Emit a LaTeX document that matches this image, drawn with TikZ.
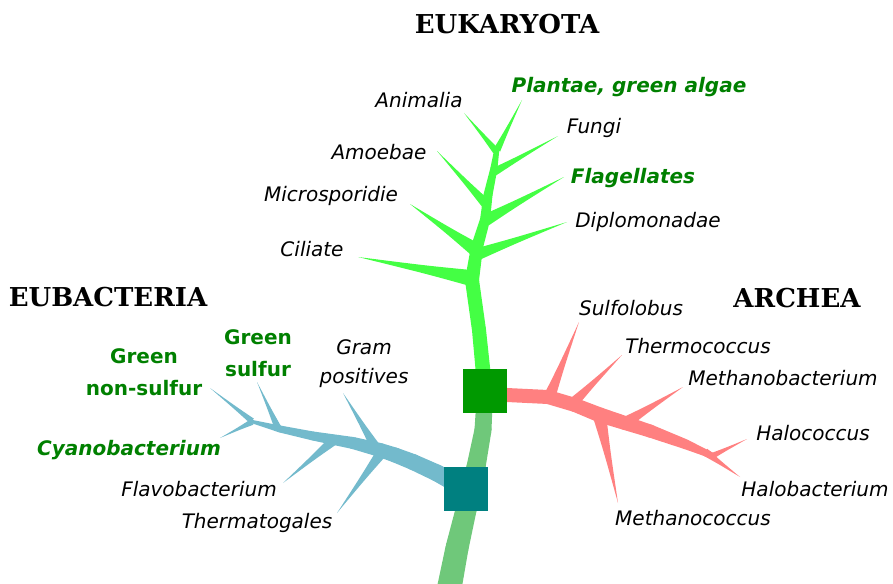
\documentclass[tikz,border=0pt]{standalone}
\usepackage{fontspec}
\setmainfont{DejaVu Sans}
\newfontfamily\headfont{DejaVu Serif}
\usetikzlibrary{calc}

\definecolor{eukgreen}{HTML}{44FF44}
\definecolor{trunkgreen}{HTML}{6FC87A}
\definecolor{rootgreen}{HTML}{009900}
\definecolor{rootteal}{HTML}{008080}
\definecolor{bacblue}{HTML}{73BACC}
\definecolor{archred}{HTML}{FF8080}
\definecolor{labelgreen}{HTML}{008000}

% tapered piece of a stem, from #2 (half width #4) to #3 (half width #5)
\newcommand{\limb}[5]{%
    \fill[#1] ($(#2)!#4!90:(#3)$) -- ($(#3)!#5!-90:(#2)$) -- ($(#3)!#5!90:(#2)$) -- ($(#2)!#4!-90:(#3)$) -- cycle;
    \fill[#1] (#3) circle (#5);}
% side branch ending in a point, slightly hollow sides
\newcommand{\twig}[4]{%
    \coordinate (twigmid) at ($(#2)!0.4!(#3)$);
    \fill[#1] ($(#2)!#4!90:(#3)$) .. controls ($(twigmid)!0.5*#4!90:(#3)$) .. (#3)
        .. controls ($(twigmid)!0.5*#4!-90:(#3)$) .. ($(#2)!#4!-90:(#3)$) -- cycle;}

\begin{document}
\begin{tikzpicture}[x=1pt,y=-1pt,
    taxon/.style={inner sep=0pt, text height=14pt, text depth=0pt, font=\fontsize{20}{24}\selectfont\itshape},
    taxongreen/.style={taxon, text=labelgreen, font=\fontsize{20}{24}\selectfont\bfseries\itshape},
    groupbold/.style={inner sep=0pt, align=center, text=labelgreen, font=\fontsize{20}{32}\selectfont\bfseries},
    kingdom/.style={inner sep=0pt, text height=19pt, text depth=0pt, font=\headfont\fontsize{26}{30}\selectfont\bfseries},
    rootbox/.style={inner sep=0pt, minimum size=44pt}]

    \useasboundingbox (0,0) rectangle (893,583);

    \coordinate (eukroot) at (485,391);
    \coordinate (bacroot) at (466,489);

    % eukaryota
    \foreach \a/\b/\wa/\wb in {eukroot/{479,330}/7.5/7, {479,330}/{472,280}/7/7, {472,280}/{477,247}/7/6,
            {477,247}/{485,220}/6/5, {485,220}/{488,195}/5/4.5, {488,195}/{494,168}/4.5/3.5, {494,168}/{497,148}/3.5/2.5}
        \limb{eukgreen}{\a}{\b}{\wa pt}{\wb pt};
    \twig{eukgreen}{497,150}{522,100}{3.5pt}
    \twig{eukgreen}{496,151}{464,113}{3.5pt}
    \twig{eukgreen}{494,172}{558,136}{4pt}
    \twig{eukgreen}{487,205}{437,151}{5pt}
    \twig{eukgreen}{486,220}{564,177}{6pt}
    \twig{eukgreen}{476,250}{410,204}{7pt}
    \twig{eukgreen}{478,254}{567,222}{6pt}
    \twig{eukgreen}{471,278}{358,257}{8pt}

    % common trunk
    \foreach \a/\b/\wa/\wb in {eukroot/{483,430}/8/8.5, {483,430}/{476,467}/8.5/9.5, {476,467}/{466,510}/9.5/10.5,
            {466,510}/{457,548}/10.5/11.5, {457,548}/{447,600}/11.5/12.5}
        \limb{trunkgreen}{\a}{\b}{\wa pt}{\wb pt};

    % eubacteria
    \foreach \a/\b/\wa/\wb in {bacroot/{437,473}/9/8.5, {437,473}/{413,462}/8.5/8, {413,462}/{395,455}/8/7.5,
            {395,455}/{380,450}/7.5/7, {380,450}/{353,443}/7/6, {353,443}/{313,436}/6/4.5,
            {313,436}/{280,429}/4.5/3.5, {280,429}/{250,421}/3.5/1.5}
        \limb{bacblue}{\a}{\b}{\wa pt}{\wb pt};
    \twig{bacblue}{376,448}{343,393}{5pt}
    \twig{bacblue}{382,452}{337,513}{5.5pt}
    \twig{bacblue}{334,440}{283,483}{5pt}
    \twig{bacblue}{278,428}{257,382}{3.5pt}
    \twig{bacblue}{252,421}{210,388}{3pt}
    \twig{bacblue}{252,422}{220,438}{3pt}

    % archea
    \foreach \a/\b/\wa/\wb in {eukroot/{507,395}/7/7, {507,395}/{548,397}/7/7, {548,397}/{575,405}/7/7,
            {575,405}/{600,415}/7/7.5, {600,415}/{625,423}/7.5/7, {625,423}/{650,431}/7/6.5,
            {650,431}/{685,444}/6.5/5, {685,444}/{713,456}/5/3}
        \limb{archred}{\a}{\b}{\wa pt}{\wb pt};
    \twig{archred}{549,398}{579,322}{6pt}
    \twig{archred}{572,404}{622,355}{5.5pt}
    \twig{archred}{625,423}{683,387}{6pt}
    \twig{archred}{600,418}{618,503}{6.5pt}
    \twig{archred}{712,456}{747,439}{3pt}
    \twig{archred}{705,452}{740,477}{4pt}

    \node[rootbox, fill=rootgreen] (euk) at (eukroot) {};
    \node[rootbox, fill=rootteal] (bac) at (bacroot) {};

    \node[kingdom] (eukaryota) at (507,24) {EUKARYOTA};
    \node[kingdom] (eubacteria) at (108,297) {EUBACTERIA};
    \node[kingdom] (archea) at (797,298) {ARCHEA};

    \node[taxon] (animalia) at (419,100) {Animalia};
    \node[taxongreen] (plantae) at (629,86) {Plantae, green algae};
    \node[taxon] (fungi) at (594,126) {Fungi};
    \node[taxon] (amoebae) at (379,152) {Amoebae};
    \node[taxongreen] (flagellates) at (633,176) {Flagellates};
    \node[taxon] (microsporidie) at (331,194) {Microsporidie};
    \node[taxon] (diplomonadae) at (648,220) {Diplomonadae};
    \node[taxon] (ciliate) at (312,249) {Ciliate};

    \node[taxon] (sulfolobus) at (631,308) {Sulfolobus};
    \node[taxon] (thermococcus) at (698,346) {Thermococcus};
    \node[taxon] (methanobacterium) at (783,378) {Methanobacterium};
    \node[taxon] (halococcus) at (813,433) {Halococcus};
    \node[taxon] (halobacterium) at (815,489) {Halobacterium};
    \node[taxon] (methanococcus) at (693,518) {Methanococcus};

    \node[groupbold] (greennonsulfur) at (144,372) {Green\\non-sulfur};
    \node[groupbold] (greensulfur) at (258,353.5) {Green\\sulfur};
    \node[taxongreen] (cyanobacterium) at (129,448) {Cyanobacterium};
    \node[inner sep=0pt, align=center, font=\fontsize{20}{29.5}\selectfont\itshape] (gram) at (364,363.5) {Gram\\positives};
    \node[taxon] (flavobacterium) at (199,489) {Flavobacterium};
    \node[taxon] (thermatogales) at (257,521) {Thermatogales};
\end{tikzpicture}
\end{document}
